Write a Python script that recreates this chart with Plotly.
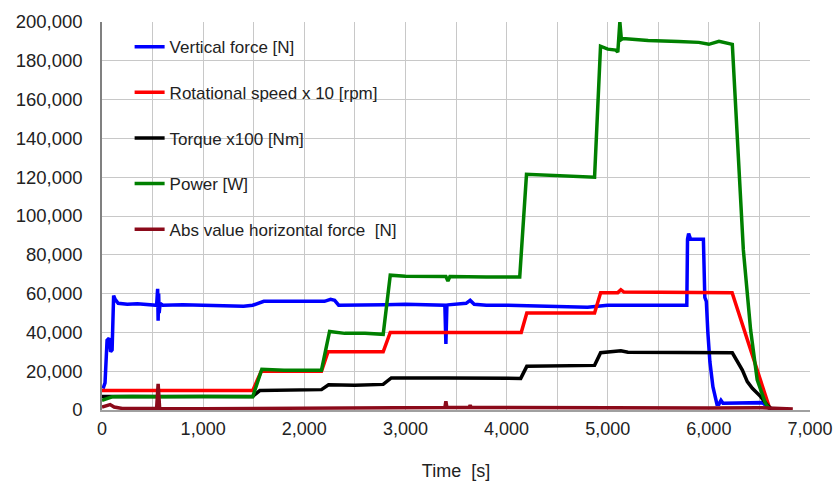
import plotly.graph_objects as go

# ---- data ----
vf_t = [10, 30, 50, 70, 85, 100, 115, 130, 160, 250, 350, 450, 540, 550, 555, 560, 565, 575, 600, 800, 1000, 1200, 1400, 1490, 1560, 1600, 1800, 2000, 2200, 2260, 2300, 2340, 2500, 2800, 3000, 3200, 3390, 3400, 3410, 3420, 3600, 3640, 3680, 3800, 4000, 4400, 4800, 4900, 5000, 5400, 5782, 5789, 5800, 5820, 5860, 5946, 5960, 5975, 5990, 6010, 6040, 6065, 6080, 6100, 6120, 6140, 6200, 6400, 6530, 6560, 6600, 6640]
vf_v = [11000, 14000, 36000, 37000, 30000, 31000, 59000, 57000, 55000, 54500, 54800, 54300, 54000, 62500, 46000, 60000, 50000, 55000, 54000, 54200, 54000, 53800, 53500, 54000, 55500, 56000, 56000, 55800, 56000, 57000, 56500, 54000, 54000, 54300, 54500, 54200, 54000, 34000, 54000, 54200, 55000, 56500, 54500, 54000, 54000, 53500, 53000, 53500, 54000, 54000, 54000, 88000, 91000, 88000, 88000, 88000, 58000, 56000, 40000, 25000, 12000, 5000, 3000, 3000, 5000, 3500, 3500, 3600, 3800, 2500, 1000, 300]

rs_t = [0, 1490, 1575, 2170, 2235, 2780, 2850, 4145, 4200, 4870, 4930, 5100, 5130, 5160, 6230, 6600, 6620]
rs_v = [10000, 10000, 20000, 20000, 30000, 30000, 40000, 40000, 50000, 50000, 60500, 60500, 62000, 60800, 60500, 1000, 500]

tq_t = [0, 1490, 1560, 1800, 2170, 2240, 2500, 2780, 2860, 3400, 4140, 4200, 4500, 4870, 4930, 5130, 5200, 6232, 6331, 6380, 6430, 6512, 6577, 6620]
tq_v = [7000, 7000, 10000, 10200, 10500, 13000, 12800, 13200, 16500, 16500, 16300, 22500, 22800, 23000, 29500, 30500, 29800, 29500, 20600, 14600, 11200, 6900, 2600, 500]

pw_t = [0, 50, 100, 300, 600, 1000, 1490, 1580, 1800, 2170, 2250, 2400, 2600, 2780, 2850, 3000, 3400, 3420, 3440, 3800, 4130, 4197, 4500, 4870, 4929, 5000, 5080, 5100, 5120, 5135, 5150, 5400, 5700, 5900, 6000, 6100, 6232, 6341, 6413, 6478, 6560, 6600]
pw_v = [5000, 6000, 6800, 7000, 6800, 7000, 6800, 21000, 20500, 20500, 40500, 39500, 39500, 39000, 69500, 69000, 68800, 66500, 68800, 68500, 68500, 121500, 120800, 120000, 187500, 186000, 185500, 184500, 200000, 191000, 191500, 190500, 190000, 189500, 188500, 190000, 188500, 82500, 41200, 15500, 3400, 500]

hf_t = [0, 80, 120, 200, 540, 555, 570, 700, 1000, 1500, 2000, 2500, 3000, 3390, 3400, 3410, 3630, 3640, 3650, 4000, 5000, 6000, 6500, 6830]
hf_v = [1500, 2800, 1500, 800, 800, 13500, 800, 600, 700, 800, 1200, 1300, 1300, 1300, 4500, 1300, 1300, 2500, 1300, 1200, 1000, 1000, 1200, 500]

series = [
    ("Vertical force [N]", vf_t, vf_v, "#0000FF"),
    ("Rotational speed x 10 [rpm]", rs_t, rs_v, "#FF0000"),
    ("Torque x100 [Nm]", tq_t, tq_v, "#000000"),
    ("Power [W]", pw_t, pw_v, "#008000"),
    ("Abs value horizontal force \u00a0[N]", hf_t, hf_v, "#8B0A1A"),
]

FONT = "Arial, Liberation Sans, sans-serif"

fig = go.Figure()
for i, (name, t, v, c) in enumerate(series):
    fig.add_trace(go.Scatter(x=t, y=v, mode="lines", name=name,
                             legendgroup=f"g{i}",
                             line=dict(color=c, width=3.5)))

fig.update_layout(
    width=833, height=482,
    margin=dict(l=102, r=23, t=22, b=72),
    plot_bgcolor="white", paper_bgcolor="white",
    font=dict(family=FONT, size=17, color="#222222"),
    showlegend=True,
    legend=dict(x=0.039, y=0.9815, xanchor="left", yanchor="top",
                bgcolor="rgba(0,0,0,0)", traceorder="grouped",
                tracegroupgap=20.5, font=dict(size=17, color="#222222"),
                itemwidth=30),
    xaxis=dict(range=[0, 7000], dtick=1000, tickformat=",",
               showgrid=True, gridcolor="#C8C8C8", gridwidth=1,
               minor=dict(dtick=500, showgrid=True, gridcolor="#C8C8C8", gridwidth=1),
               showline=True, linecolor="#A0A0A0", linewidth=1.5,
               zeroline=False, ticks="", ticklabelstandoff=2,
               ticklabeloverflow="allow", automargin=False,
               tickfont=dict(size=18),
               title=dict(text="Time \u00a0[s]", font=dict(size=18), standoff=26)),
    yaxis=dict(range=[0, 200000], dtick=20000, tickformat=",",
               showgrid=True, gridcolor="#C8C8C8", gridwidth=1,
               showline=True, linecolor="#808080", linewidth=1.5,
               zeroline=False, ticks="", ticklabelstandoff=14,
               automargin=False,
               tickfont=dict(size=18.5)),
)

fig.write_html("out.html")
